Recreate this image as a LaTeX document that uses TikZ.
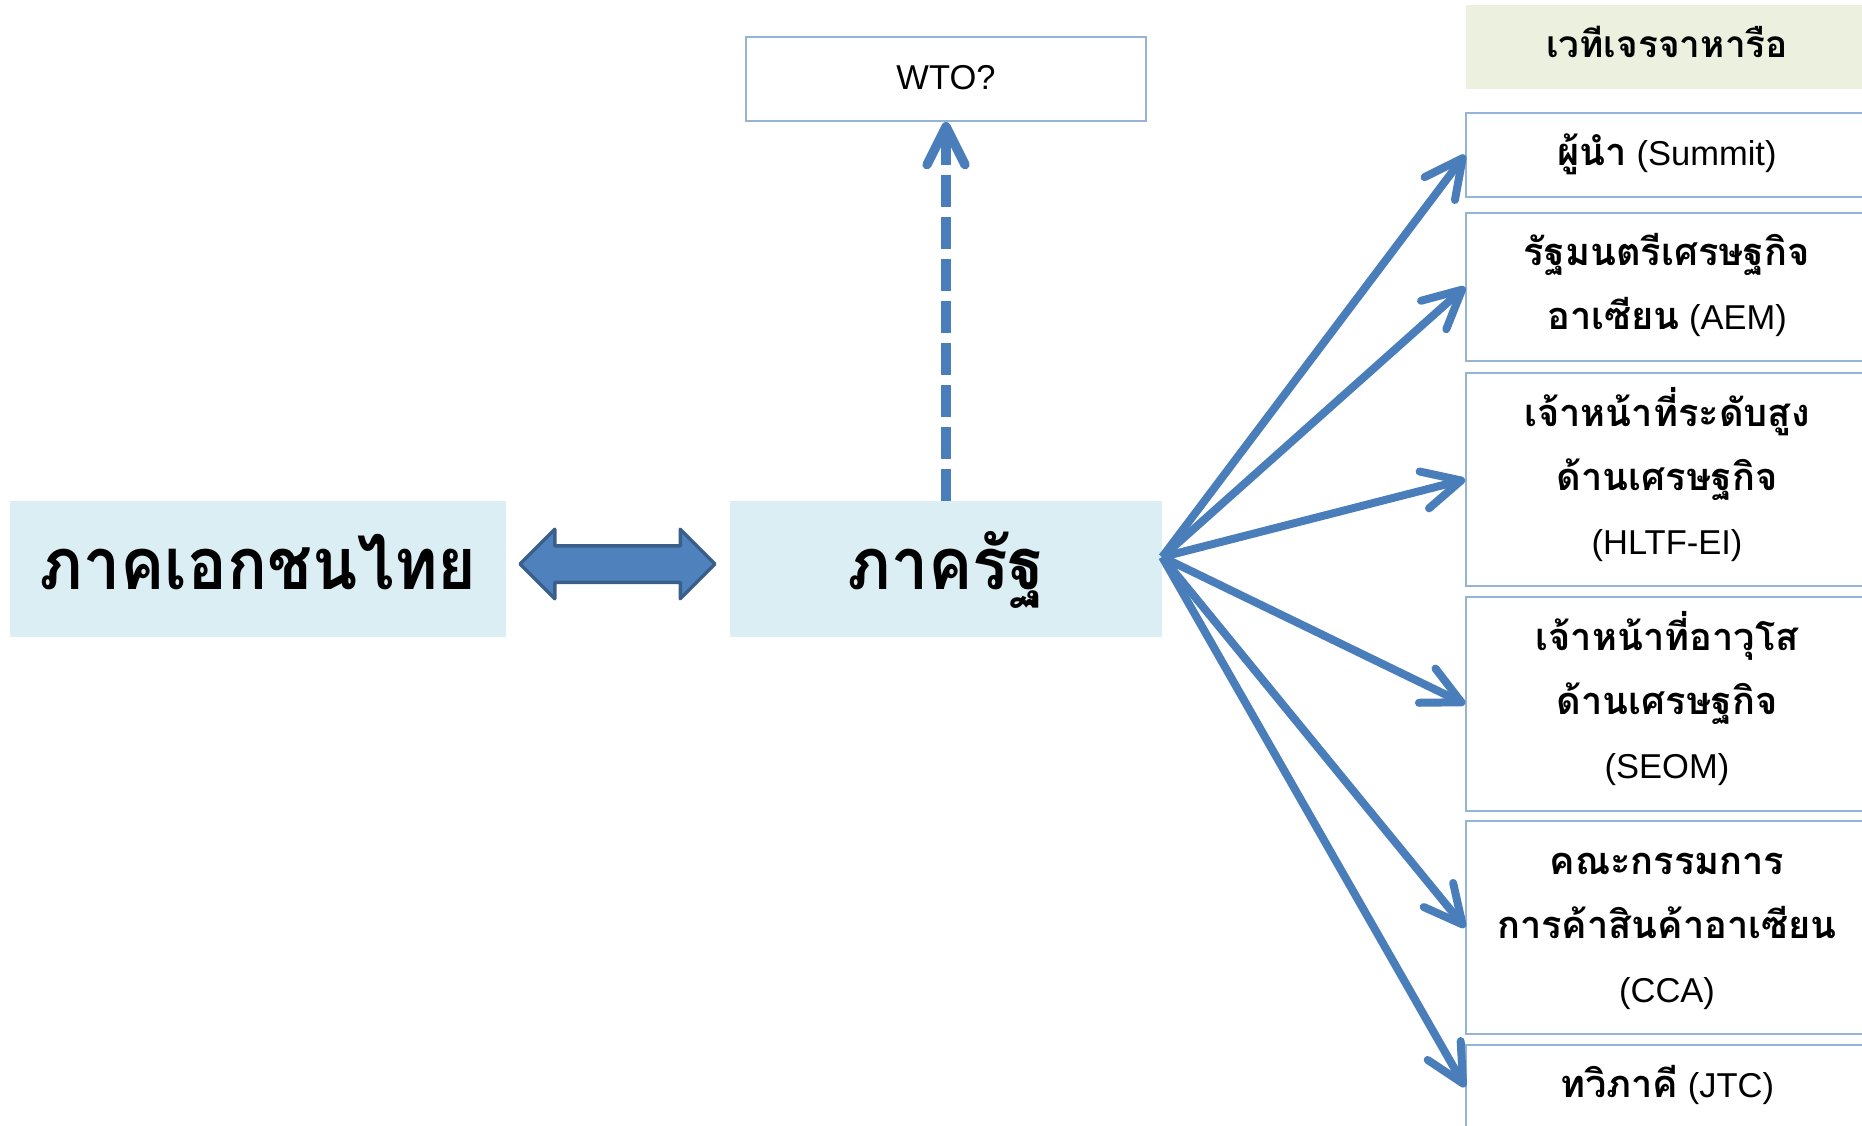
\documentclass[tikz,border=0pt]{standalone}
\usepackage{fontspec}
\setmainfont{Liberation Sans}
\newfontfamily\thai[Script=Thai]{Loma}
\newfontfamily\thaibig[Script=Thai, FakeStretch=0.92]{Loma}
\usetikzlibrary{arrows.meta,shapes.arrows,calc}
\definecolor{boxblue}{HTML}{DBEEF4}
\definecolor{hdrgreen}{HTML}{EBF1DE}
\definecolor{lineblue}{HTML}{4A7EBB}
\definecolor{edgeblue}{HTML}{95B3D7}
\definecolor{darkedge}{HTML}{3A5F8B}
\definecolor{arrowfill}{HTML}{4F81BD}
\newcommand{\thtxt}[1]{{\thai\bfseries\fontsize{38}{64}\selectfont #1}}
\newcommand{\topstrut}{\rule{0pt}{40pt}}
\newcommand{\botstrut}{\rule[-19pt]{0pt}{19pt}}
\begin{document}
\begin{tikzpicture}[x=1pt,y=-1pt,
  bigbox/.style={fill=boxblue, inner sep=0pt, minimum height=136pt,
    font=\thaibig\bfseries\fontsize{72}{80}\selectfont, text height=50pt, text depth=10pt},
  forum/.style={draw=edgeblue, line width=2pt, fill=white, inner sep=0pt,
    minimum width=402pt, align=center, font=\fontsize{34.5}{64}\selectfont},
  oneline/.style={text height=30pt, text depth=9pt},
  header/.style={fill=hdrgreen, inner sep=0pt, minimum width=402pt, minimum height=84pt,
    font=\thai\bfseries\fontsize{37}{64}\selectfont, text height=30pt, text depth=10pt},
  wtobox/.style={draw=edgeblue, line width=2pt, fill=white, inner sep=0pt,
    minimum width=400pt, minimum height=84pt, font=\fontsize{34.5}{40}\selectfont,
    text height=30pt, text depth=10pt},
  dblarrow/.style={double arrow, draw=darkedge, fill=arrowfill, line width=3.5pt,
    line join=round, inner sep=0pt, text height=16.5pt, text depth=16.5pt,
    minimum height=195pt, minimum width=66pt,
    double arrow head extend=16.5pt, double arrow tip angle=90},
  conn/.style={draw=lineblue, line width=8pt,
    -{Straight Barb[round, length=38pt, width=38pt]}},
  dashconn/.style={draw=lineblue, line width=9.3pt, dash pattern=on 32pt off 10pt,
    -{Straight Barb[round, length=38pt, width=38pt]}}
]
\useasboundingbox (0,0) rectangle (1862,1125);
\clip (0,0) rectangle (1862,1125);

\node[bigbox, minimum width=496pt] (priv) at (258,569) {ภาคเอกชนไทย};
\node[bigbox, minimum width=432pt] (gov) at (946,569) {ภาครัฐ};
\node[dblarrow] (link) at (617.5,564) {};

\node[wtobox] (wto) at (946,79) {WTO?};

\node[header] (hdr) at (1667,47) {เวทีเจรจาหารือ};
\node[forum, oneline, minimum height=84pt] (summit) at (1667,155) {\thtxt{ผู้นำ} (Summit)};
\node[forum, minimum height=148pt] (aem) at (1667,287) {\topstrut\thtxt{รัฐมนตรีเศรษฐกิจ}\\\thtxt{อาเซียน} (AEM)\botstrut};
\node[forum, minimum height=213pt] (hltf) at (1667,479.5) {\topstrut\thtxt{เจ้าหน้าที่ระดับสูง}\\\thtxt{ด้านเศรษฐกิจ}\\(HLTF-EI)\botstrut};
\node[forum, minimum height=214pt] (seom) at (1667,704) {\topstrut\thtxt{เจ้าหน้าที่อาวุโส}\\\thtxt{ด้านเศรษฐกิจ}\\(SEOM)\botstrut};
\node[forum, minimum height=213pt] (cca) at (1667,927.5) {\topstrut\thtxt{คณะกรรมการ}\\\thtxt{การค้าสินค้าอาเซียน}\\(CCA)\botstrut};
\node[forum, oneline, minimum height=84pt] (jtc) at (1667,1087) {\thtxt{ทวิภาคี} (JTC)};

\draw[dashconn] (gov.north) -- (wto.south);

\coordinate (hub) at ($(gov.east)+(0,-12)$);
\draw[conn] (hub) -- (summit.west);
\draw[conn] (hub) -- (aem.west);
\draw[conn] (hub) -- (hltf.west);
\draw[conn] (hub) -- (seom.west);
\draw[conn] (hub) -- (cca.west);
\draw[conn] (hub) -- (jtc.west);
\end{tikzpicture}
\end{document}
